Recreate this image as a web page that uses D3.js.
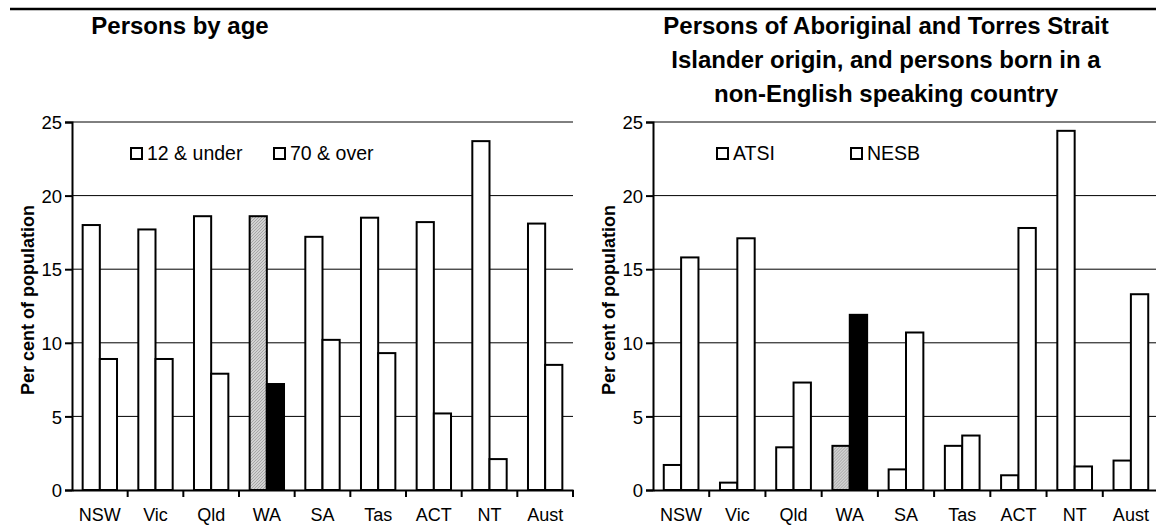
<!DOCTYPE html>
<html>
<head>
<meta charset="utf-8">
<script src="https://cdn.jsdelivr.net/npm/d3@7"></script>
<style>
  body { margin: 0; background: #fff; }
  svg { display: block; font-family: "Liberation Sans", Arial, sans-serif; }
  .axis text { font-size: 18.5px; fill: #000; }
  .x.axis text { font-size: 18px; }
  .title { font-size: 24px; font-weight: bold; text-anchor: middle; }
  .y-label { font-size: 18px; font-weight: bold; text-anchor: middle; }
  .legend text { font-size: 19.5px; }
</style>
</head>
<body>
<div class="chart-container"></div>
<script>
// data
const states = ['NSW', 'Vic', 'Qld', 'WA', 'SA', 'Tas', 'ACT', 'NT', 'Aust'];
const under12 = [18.0, 17.7, 18.6, 18.6, 17.2, 18.5, 18.2, 23.7, 18.1];
const over70 = [8.9, 8.9, 7.9, 7.2, 10.2, 9.3, 5.2, 2.1, 8.5];
const atsi = [1.7, 0.5, 2.9, 3.0, 1.4, 3.0, 1.0, 24.4, 2.0];
const nesb = [15.8, 17.1, 7.3, 11.9, 10.7, 3.7, 17.8, 1.6, 13.3];
const yTicks = [0, 5, 10, 15, 20, 25];
const highlight = 'WA';

const svg_width = 1156;
const svg_height = 527;

const svg = d3.select('.chart-container').append('svg')
  .attr('width', svg_width).attr('height', svg_height);

// hatched grey used for the WA first bar
const defs = svg.append('defs');
const pat = defs.append('pattern')
  .attr('id', 'hatch')
  .attr('patternUnits', 'userSpaceOnUse')
  .attr('width', 3).attr('height', 3);
pat.append('rect').attr('width', 3).attr('height', 3).attr('fill', '#d2d2d2');
pat.append('path').attr('d', 'M0,3 L3,0').attr('stroke', '#9a9a9a').attr('stroke-width', 0.8);

// thin rule across the top
svg.append('line')
  .attr('x1', 10).attr('x2', svg_width)
  .attr('y1', 9).attr('y2', 9)
  .attr('stroke', '#000').attr('stroke-width', 2.5);

function drawPanel(cfg) {
  const g = svg.append('g');

  const x0 = d3.scaleBand().domain(states).range([cfg.left, cfg.right]);
  const x1 = d3.scaleBand().domain([0, 1]).range([0, x0.bandwidth()])
    .paddingInner(0).paddingOuter(0.62);
  const y = d3.scaleLinear().domain([0, 25]).range([490, 122]);

  // gridlines
  g.append('g').selectAll('line')
    .data(yTicks.filter(d => d > 0))
    .enter().append('line')
    .attr('x1', cfg.left).attr('x2', cfg.right)
    .attr('y1', d => y(d)).attr('y2', d => y(d))
    .attr('stroke', '#000').attr('stroke-width', 1);

  // bars
  const rows = states.map((s, i) => ({state: s, vals: [cfg.a[i], cfg.b[i]]}));
  const grp = g.selectAll('.grp').data(rows).enter().append('g')
    .attr('class', 'grp')
    .attr('transform', d => `translate(${x0(d.state)},0)`);
  grp.selectAll('rect')
    .data(d => d.vals.map((v, k) => ({k: k, v: v, state: d.state})))
    .enter().append('rect')
    .attr('x', d => x1(d.k))
    .attr('y', d => y(d.v))
    .attr('width', x1.bandwidth())
    .attr('height', d => y(0) - y(d.v))
    .attr('fill', d => d.state === highlight ? (d.k === 0 ? 'url(#hatch)' : '#000') : '#fff')
    .attr('stroke', '#000').attr('stroke-width', 2);

  // y axis
  const yAxis = d3.axisLeft(y).tickValues(yTicks).tickSize(7).tickPadding(3);
  const yAxisDraw = g.append('g').attr('class', 'y axis')
    .attr('transform', `translate(${cfg.left},0)`)
    .call(yAxis);
  yAxisDraw.select('.domain').attr('stroke-width', 2);
  yAxisDraw.selectAll('.tick line').attr('stroke-width', 2);
  yAxisDraw.selectAll('text').attr('dy', '0.36em');

  // x axis: labels centred, ticks at category boundaries
  const xAxis = d3.axisBottom(x0).tickSize(0).tickPadding(18);
  const xAxisDraw = g.append('g').attr('class', 'x axis')
    .attr('transform', `translate(0,${y(0)})`)
    .call(xAxis);
  xAxisDraw.select('.domain').attr('stroke-width', 2);
  xAxisDraw.selectAll('text').attr('dy', '0.71em');
  const bounds = states.map(s => x0(s)).concat([x0.range()[1]]).slice(1);
  xAxisDraw.selectAll('.bound').data(bounds).enter().append('line')
    .attr('class', 'bound')
    .attr('x1', d => d).attr('x2', d => d)
    .attr('y1', 0).attr('y2', 7)
    .attr('stroke', '#000').attr('stroke-width', 2);

  // y label
  g.append('text').attr('class', 'y-label')
    .attr('transform', `translate(${cfg.left - 38},${(y(0) + y(25)) / 2 - 6}) rotate(-90)`)
    .text('Per cent of population');

  // title
  const title = g.append('text').attr('class', 'title');
  cfg.title.forEach((line, i) => {
    title.append('tspan').attr('x', cfg.titleX).attr('y', 34 + i * 34).text(line);
  });

  // legend
  const leg = g.append('g').attr('class', 'legend');
  cfg.legend.forEach((name, i) => {
    const lx = cfg.legendX[i];
    leg.append('rect')
      .attr('x', lx).attr('y', 148).attr('width', 11).attr('height', 11)
      .attr('fill', '#fff').attr('stroke', '#000').attr('stroke-width', 2);
    leg.append('text').attr('x', lx + 16).attr('y', 160).text(name);
  });
}

drawPanel({
  left: 72, right: 573,
  a: under12, b: over70,
  title: ['Persons by age'], titleX: 180,
  legend: ['12 & under', '70 & over'], legendX: [131, 274]
});

drawPanel({
  left: 653, right: 1159,
  a: atsi, b: nesb,
  title: ['Persons of Aboriginal and Torres Strait',
          'Islander origin, and persons born in a',
          'non-English speaking country'], titleX: 886,
  legend: ['ATSI', 'NESB'], legendX: [717, 851]
});
</script>
</body>
</html>
